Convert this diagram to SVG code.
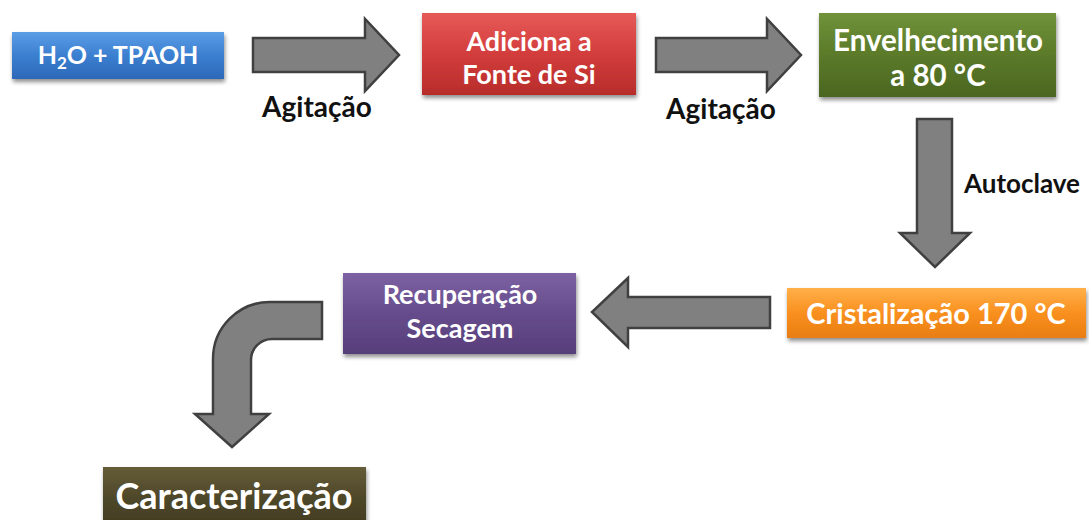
<svg xmlns="http://www.w3.org/2000/svg" width="1089" height="520" viewBox="0 0 1089 520">
<defs>
<filter id="sh" x="-10%" y="-10%" width="125%" height="140%">
<feGaussianBlur in="SourceAlpha" stdDeviation="2"/>
<feOffset dx="1" dy="3" result="b"/>
<feComponentTransfer><feFuncA type="linear" slope="0.45"/></feComponentTransfer>
<feMerge><feMergeNode/><feMergeNode in="SourceGraphic"/></feMerge>
</filter>
<linearGradient id="gBlue" x1="0" y1="0" x2="0" y2="1"><stop offset="0" stop-color="#5c9de6"/><stop offset="0.5" stop-color="#3b7fd0"/><stop offset="1" stop-color="#2d68b8"/></linearGradient>
<linearGradient id="gRed" x1="0" y1="0" x2="0" y2="1"><stop offset="0" stop-color="#e65a58"/><stop offset="0.5" stop-color="#d23d3b"/><stop offset="1" stop-color="#b82c2b"/></linearGradient>
<linearGradient id="gGreen" x1="0" y1="0" x2="0" y2="1"><stop offset="0" stop-color="#70923a"/><stop offset="0.5" stop-color="#5b7a2a"/><stop offset="1" stop-color="#4b6620"/></linearGradient>
<linearGradient id="gOrange" x1="0" y1="0" x2="0" y2="1"><stop offset="0" stop-color="#ffb04a"/><stop offset="0.5" stop-color="#f9901f"/><stop offset="1" stop-color="#e97d12"/></linearGradient>
<linearGradient id="gPurple" x1="0" y1="0" x2="0" y2="1"><stop offset="0" stop-color="#7c61a3"/><stop offset="0.5" stop-color="#664c8c"/><stop offset="1" stop-color="#573e7b"/></linearGradient>
<linearGradient id="gOlive" x1="0" y1="0" x2="0" y2="1"><stop offset="0" stop-color="#655c38"/><stop offset="0.5" stop-color="#4f482a"/><stop offset="1" stop-color="#413b21"/></linearGradient>
</defs>
<style>
.box{filter:url(#sh);}
.t{font-family:Lato,"Open Sans",sans-serif;font-weight:bold;fill:#ffffff;text-anchor:middle;}
.lbl{font-family:Lato,"Open Sans",sans-serif;font-weight:bold;fill:#111111;text-anchor:middle;}
.arr{fill:#808080;stroke:#404040;stroke-width:2.5;stroke-linejoin:miter;}
</style>
<rect width="1089" height="520" fill="#ffffff"/>
<g id="connectors">
<polygon class="arr" points="253,38 365,38 365,19 399,55 365,91 365,72 253,72"/>
<polygon class="arr" points="656,38 767,38 767,19 801,55 767,91 767,72 656,72"/>
<polygon class="arr" points="917,119 952,119 952,233 970,233 935,267 900,233 917,233"/>
<polygon class="arr" points="770,297 628,297 628,278 592,312 628,347 628,328 770,328"/>
<path class="arr" d="M322,302 L270,302 A57,57 0 0 0 213,359 L213,414 L195,414 L232,447 L269,414 L251,414 L251,360 A21,21 0 0 1 272,339 L322,339 Z"/>
<text class="lbl" x="317" y="117" font-size="28">Agitação</text>
<text class="lbl" x="721" y="119" font-size="28">Agitação</text>
<text class="lbl" x="1022" y="193" font-size="26">Autoclave</text>
</g>
<g id="n1">
<rect class="box" x="12" y="32" width="212" height="47" fill="url(#gBlue)"/>
<text class="t" x="118" y="64" font-size="25">H<tspan font-size="17" dy="5">2</tspan><tspan dy="-5">O + TPAOH</tspan></text>
</g>
<g id="n2">
<rect class="box" x="422" y="13" width="214" height="82" fill="url(#gRed)"/>
<text class="t" x="529" y="51" font-size="27">Adiciona a</text>
<text class="t" x="529" y="84" font-size="27">Fonte de Si</text>
</g>
<g id="n3">
<rect class="box" x="819" y="13" width="237" height="84" fill="url(#gGreen)"/>
<text class="t" x="938" y="51" font-size="29.5">Envelhecimento</text>
<text class="t" x="938" y="86" font-size="29.5">a 80 °C</text>
</g>
<g id="n4">
<rect class="box" x="787" y="288" width="299" height="50" fill="url(#gOrange)"/>
<text class="t" x="936" y="324" font-size="29">Cristalização 170 °C</text>
</g>
<g id="n5">
<rect class="box" x="343" y="273" width="233" height="81" fill="url(#gPurple)"/>
<text class="t" x="460" y="304" font-size="27">Recuperação</text>
<text class="t" x="460" y="338" font-size="27">Secagem</text>
</g>
<g id="n6">
<rect class="box" x="103" y="467" width="263" height="60" fill="url(#gOlive)"/>
<text class="t" x="234" y="509" font-size="36">Caracterização</text>
</g>
</svg>
